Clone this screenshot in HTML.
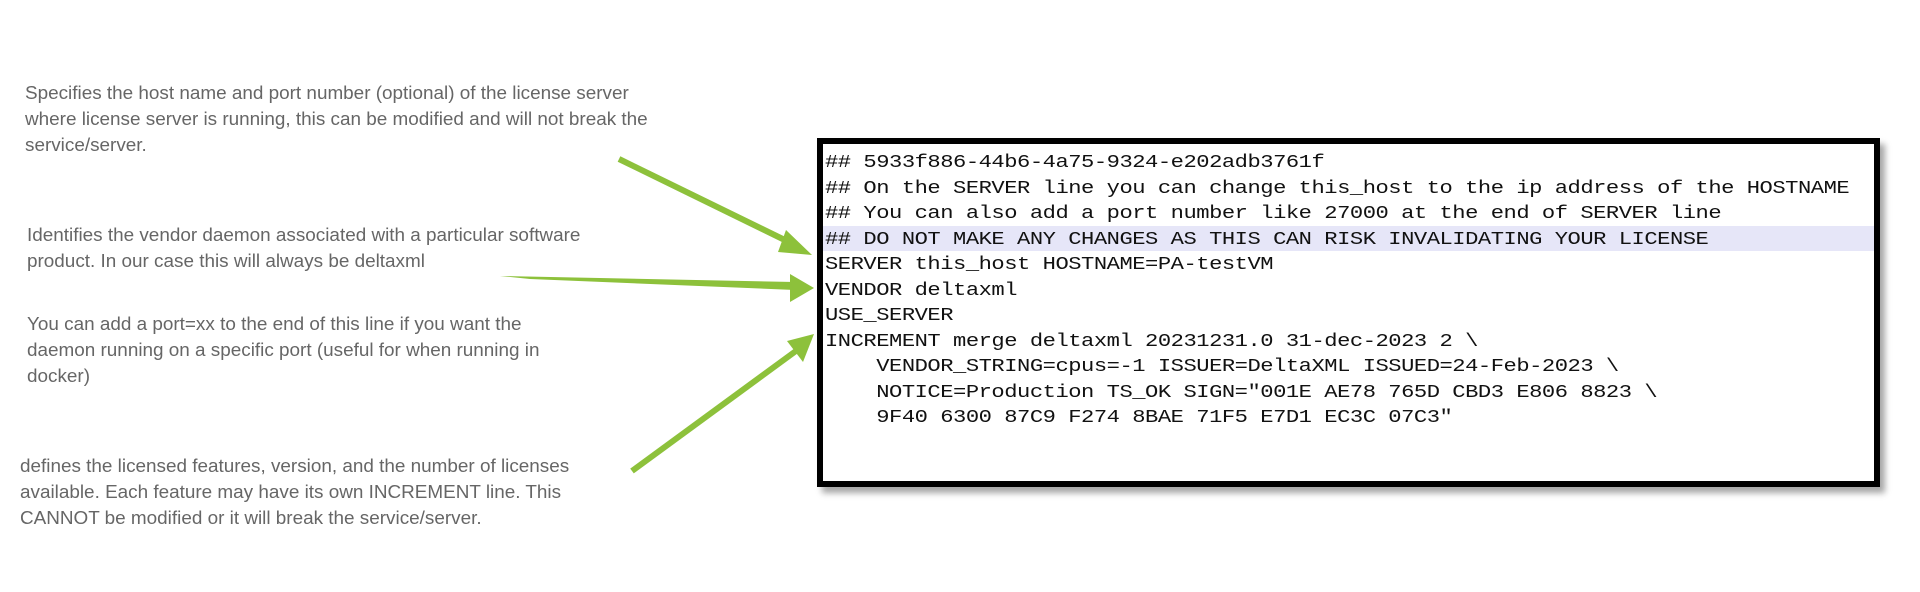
<!DOCTYPE html>
<html><head><meta charset="utf-8"><style>
body{margin:0;width:1920px;height:592px;background:#fff;position:relative;overflow:hidden}
.t{position:absolute;font-family:"Liberation Sans Narrow","Liberation Sans",sans-serif;font-size:18.9px;line-height:26px;color:#666;white-space:nowrap}
.box{position:absolute;left:817px;top:138px;width:1051px;height:337px;border:6px solid #000;box-shadow:5px 6px 6px rgba(0,0,0,.35);background:#fff}
.code{position:absolute;left:2px;top:6px;font-family:"Liberation Mono",monospace;font-size:18.6px;line-height:25.5px;color:#111;white-space:pre;transform:scaleX(1.19);transform-origin:0 0;letter-spacing:-0.4px}
.hl{position:absolute;left:0;right:0;top:82px;height:25px;background:#e6e6f8}
</style></head><body>
<div class="t" style="left:25px;top:81px">Specifies the host name and port number (optional) of the license server<br>where license server is running, this can be modified and will not break the<br>service/server.</div>
<div class="t" style="left:27px;top:223px">Identifies the vendor daemon associated with a particular software<br>product. In our case this will always be deltaxml</div>
<div class="t" style="left:27px;top:312px">You can add a port=xx to the end of this line if you want the<br>daemon running on a specific port (useful for when running in<br>docker)</div>
<div class="t" style="left:20px;top:454px">defines the licensed features, version, and the number of licenses<br>available. Each feature may have its own INCREMENT line. This<br>CANNOT be modified or it will break the service/server.</div>
<div class="box"><div class="hl"></div><div class="code">## 5933f886-44b6-4a75-9324-e202adb3761f
## On the SERVER line you can change this_host to the ip address of the HOSTNAME
## You can also add a port number like 27000 at the end of SERVER line
## DO NOT MAKE ANY CHANGES AS THIS CAN RISK INVALIDATING YOUR LICENSE
SERVER this_host HOSTNAME=PA-testVM
VENDOR deltaxml
USE_SERVER
INCREMENT merge deltaxml 20231231.0 31-dec-2023 2 \
    VENDOR_STRING=cpus=-1 ISSUER=DeltaXML ISSUED=24-Feb-2023 \
    NOTICE=Production TS_OK SIGN="001E AE78 765D CBD3 E806 8823 \
    9F40 6300 87C9 F274 8BAE 71F5 E7D1 EC3C 07C3"</div></div>
<svg width="1920" height="592" style="position:absolute;left:0;top:0">
<g stroke="#8dc13b" stroke-width="6" fill="#8dc13b">
<line x1="619" y1="159" x2="795" y2="245"/>
<polygon points="812,255 786,230 778,252" stroke="none"/>
<polygon points="500,276 795,282 795,290 530,279" stroke="none"/>
<polygon points="814,288 790,274 790,302" stroke="none"/>
<line x1="632" y1="471" x2="800" y2="348"/>
<polygon points="814,334 787,341 803,362" stroke="none"/>
</g></svg>
</body></html>
